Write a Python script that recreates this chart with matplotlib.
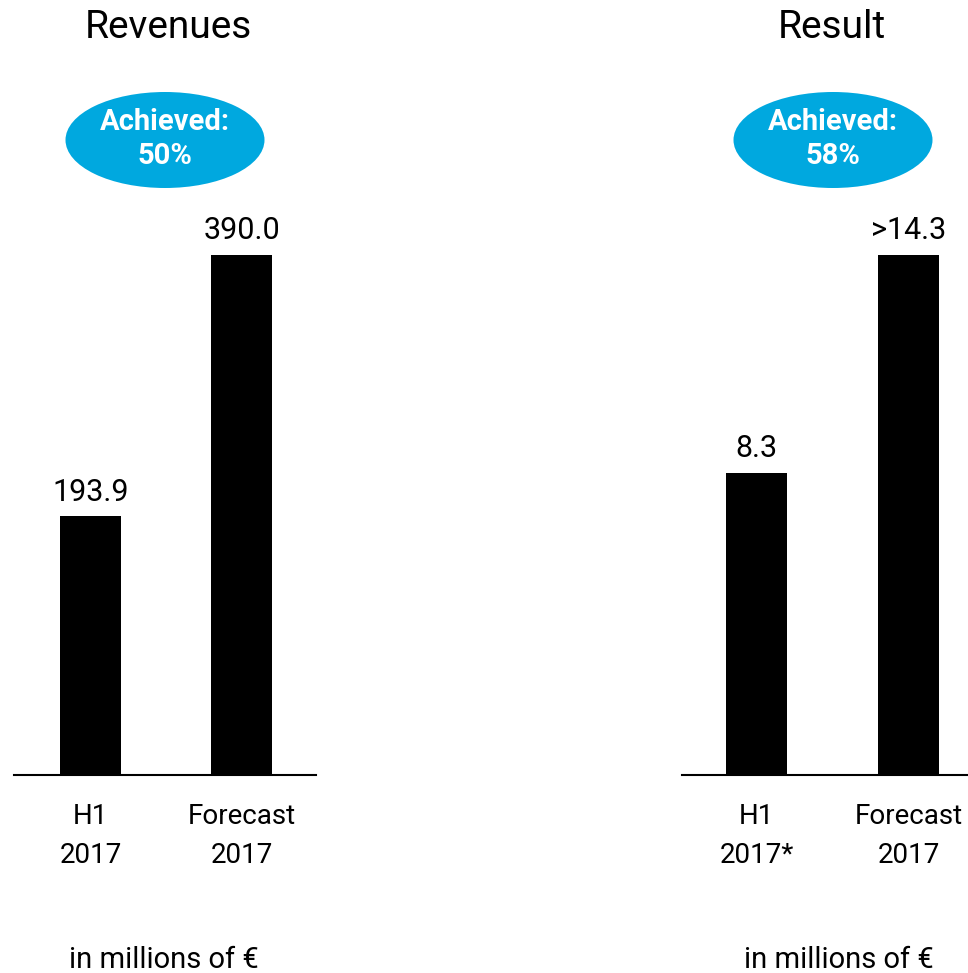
import matplotlib.pyplot as plt
from matplotlib.patches import Ellipse

plt.rcParams['font.family'] = ['Roboto', 'DejaVu Sans']

# Data
rev_categories = ['H1\n2017', 'Forecast\n2017']
rev_values = [193.9, 390.0]
rev_labels = ['193.9', '390.0']
rev_achieved = 'Achieved:\n50%'

res_categories = ['H1\n2017*', 'Forecast\n2017']
res_values = [8.3, 14.3]
res_labels = ['8.3', '>14.3']
res_achieved = 'Achieved:\n58%'

W, H = 968, 973
fig = plt.figure(figsize=(W / 100, H / 100), dpi=100)
blue = '#00A8DF'


def panel(left_px, right_px, xlim, cats, vals, labels, title, title_x, badge, badge_x, unit_x):
    # axes spans from baseline (y=775) to top of tallest bar (y=255)
    ax = fig.add_axes([left_px / W, (H - 775) / H, (right_px - left_px) / W, (775 - 255) / H])
    x = range(len(cats))
    bars = ax.bar(x, vals, width=0.4, color='black')
    ax.bar_label(bars, labels=labels, padding=7, fontsize=22)
    ax.set_xlim(*xlim)
    ax.set_ylim(0, max(vals))
    ax.set_xticks(list(x))
    ax.set_xticklabels(cats, fontsize=20, linespacing=1.6)
    ax.tick_params(axis='x', length=0, pad=20)
    ax.set_yticks([])
    for s in ['top', 'left', 'right']:
        ax.spines[s].set_visible(False)
    ax.spines['bottom'].set_linewidth(1.5)
    ax.patch.set_visible(False)

    fig.text(title_x / W, 1 - 28 / H, title, ha='center', va='center', fontsize=28)
    fig.patches.append(Ellipse((badge_x / W, 1 - 140 / H), 199 / W, 96 / H,
                               transform=fig.transFigure, facecolor=blue, edgecolor='none'))
    fig.text(badge_x / W, 1 - 139 / H, badge, ha='center', va='center', fontsize=21,
             fontweight='bold', color='white', linespacing=1.25)
    fig.text(unit_x / W, 1 - 960 / H, 'in millions of €', ha='center', va='center', fontsize=21)
    return ax


panel(14, 316, (-0.507, 1.493), rev_categories, rev_values, rev_labels,
      'Revenues', 168, rev_achieved, 165, 164)
panel(682, 968, (-0.49, 1.39), res_categories, res_values, res_labels,
      'Result', 832, res_achieved, 833, 839)

fig.savefig('out.png', dpi=100)
